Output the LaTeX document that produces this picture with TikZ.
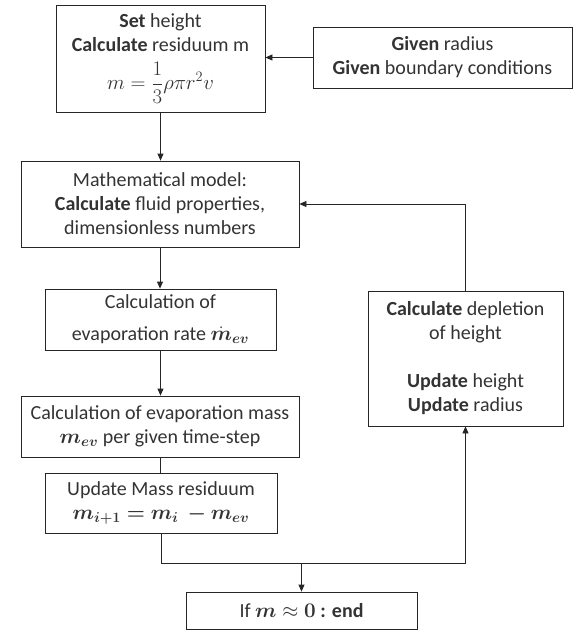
\documentclass[tikz,border=0pt]{standalone}
\usepackage{fontspec}
\setmainfont{Carlito}
\usepackage{amsmath}
\usepackage{bm}
\usetikzlibrary{arrows.meta}

\tikzset{
  box/.style={draw=black!85, line width=0.8pt, align=center, inner sep=2pt,
    text=black!80, font=\fontsize{20}{24}\selectfont},
  arr/.style={draw=black!85, line width=0.8pt, -{Triangle[length=7pt,width=6pt]}},
  wire/.style={draw=black!85, line width=0.8pt}
}

\begin{document}
\begin{tikzpicture}[x=1pt, y=-1pt]
\useasboundingbox (0,0) rectangle (573,630);

% Define nodes
\path (160.5,58.5)
node[box, minimum width=209pt, minimum height=107pt] (set)
  {\textbf{Set} height\\ \textbf{Calculate} residuum m\\[9pt] $m=\dfrac{1}{3}\rho\pi r^2 v$}
(442.5,57.5)
node[box, minimum width=259pt, minimum height=61pt] (given)
  {\textbf{Given} radius\\ \textbf{Given} boundary conditions}
(160,204)
node[box, minimum width=278pt, minimum height=86pt] (model)
  {Mathematical model:\\ \textbf{Calculate} fluid properties,\\ dimensionless numbers}
(160.5,319.5)
node[box, minimum width=231pt, minimum height=61pt] (rate)
  {Calculation of\\[8pt] evaporation rate $\bm{\dot{m}_{ev}}$}
(160,426.5)
node[box, minimum width=278pt, minimum height=61pt] (evmass)
  {Calculation of evaporation mass\\ $\bm{m_{ev}}$ per given time-step}
(161,503)
node[box, minimum width=232pt, minimum height=60pt] (update)
  {Update Mass residuum\\ $\bm{m_{i+1}=m_i\ -m_{ev}}$}
(465.5,358.5)
node[box, minimum width=195pt, minimum height=135pt] (deplete)
  {\textbf{Calculate} depletion\\ of height\\[24pt] \textbf{Update} height\\ \textbf{Update} radius}
(301.5,610.5)
node[box, minimum width=231pt, minimum height=37pt] (stop)
  {If $\bm{m}\approx\bm{0}$ \textbf{: end}}
;
\coordinate (join) at (160,563);

% Connectors
\draw[arr] (given.west) -- (given.west -| set.east);
\draw[arr] (set.south) -- (set.south |- model.north);
\draw[arr] (model.south) -- (model.south |- rate.north);
\draw[arr] (rate.south) -- (rate.south |- evmass.north);
\draw[wire] (evmass.south) -- (evmass.south |- update.north);
\draw[wire] (update.south) -- (update.south |- join) -- (join -| deplete.south);
\draw[arr] (join -| deplete.south) -- (deplete.south);
\draw[arr] (join -| stop.north) -- (stop.north);
\draw[arr] (deplete.north) |- (model.east);

\end{tikzpicture}
\end{document}
